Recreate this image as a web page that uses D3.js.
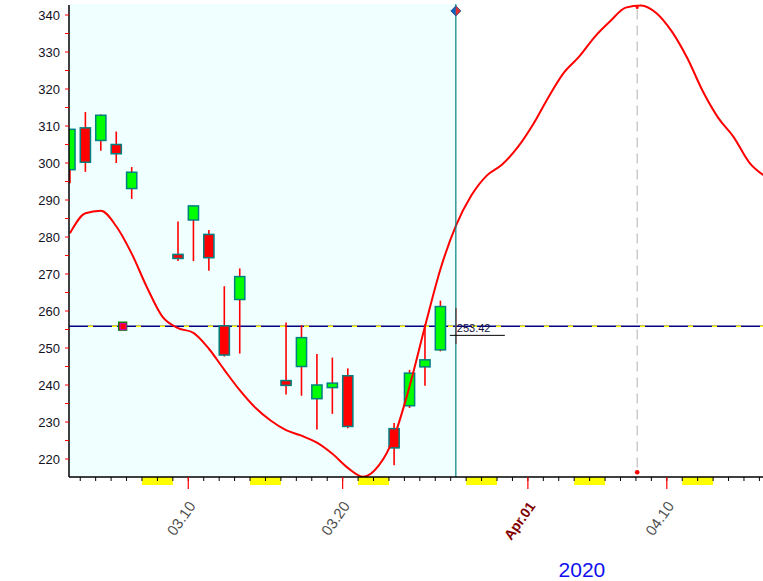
<!DOCTYPE html>
<html>
<head>
<meta charset="utf-8">
<script src="https://cdn.jsdelivr.net/npm/d3@7/dist/d3.min.js"></script>
<style>
  html, body { margin: 0; padding: 0; background: #fff; }
  svg { display: block; font-family: Arial, "Liberation Sans", sans-serif; }
</style>
</head>
<body>
<svg id="chart" width="763" height="581"></svg>
<script>
// ---------------- DATA ----------------
const candleDates = ["2020-03-02","2020-03-03","2020-03-04","2020-03-05","2020-03-06",
  "2020-03-09","2020-03-10","2020-03-11","2020-03-12","2020-03-13",
  "2020-03-16","2020-03-17","2020-03-18","2020-03-19","2020-03-20",
  "2020-03-23","2020-03-24","2020-03-25","2020-03-26","2020-03-27"];
const opens  = [298.2, 309.5, 306.1, 305.0, 293.1, 275.3, 284.6, 280.7, 256.0, 263.1,
                241.2, 245.0, 236.3, 239.3, 242.5, 228.2, 234.4, 244.9, 249.5, 253.3];
const highs  = [309.2, 313.8, 313.1, 308.5, 298.9, 284.2, 288.5, 281.9, 266.7, 271.5,
                256.9, 256.2, 248.4, 247.4, 244.5, 229.7, 244.1, 256.4, 262.8, 260.8];
const lows   = [294.5, 297.6, 303.3, 300.0, 290.3, 273.5, 273.5, 270.9, 247.7, 248.5,
                237.4, 237.1, 228.0, 232.2, 228.3, 218.3, 233.8, 239.8, 249.1, 251.1];
const closes = [309.1, 300.2, 312.9, 302.5, 297.5, 274.2, 288.4, 274.4, 248.1, 269.3,
                239.9, 252.8, 240.0, 240.5, 228.8, 223.0, 243.2, 246.8, 261.2, 253.4];

const curveDates = ["2020-03-02","2020-03-03","2020-03-04","2020-03-05","2020-03-06","2020-03-07",
  "2020-03-08","2020-03-09","2020-03-10","2020-03-11","2020-03-12","2020-03-13","2020-03-14",
  "2020-03-15","2020-03-16","2020-03-17","2020-03-18","2020-03-19","2020-03-20","2020-03-21",
  "2020-03-22","2020-03-23","2020-03-24","2020-03-25","2020-03-26","2020-03-27","2020-03-28",
  "2020-03-29","2020-03-30","2020-03-31","2020-04-01","2020-04-02","2020-04-03","2020-04-04",
  "2020-04-05","2020-04-06","2020-04-07","2020-04-08","2020-04-09","2020-04-10","2020-04-11",
  "2020-04-12","2020-04-13","2020-04-14","2020-04-15","2020-04-16"];
const curveValues = [281.0, 286.4, 287.1, 282.9, 275.5, 266.3,
  258.4, 255.4, 254.1, 249.8, 244.1, 238.6, 233.9,
  230.4, 227.8, 226.3, 224.4, 221.4, 217.6, 215.2,
  218.2, 226.0, 239.6, 255.8, 271.3, 283.0, 291.2,
  296.6, 299.6, 304.2, 310.4, 317.8, 324.4, 328.8,
  334.1, 338.3, 342.0, 342.6, 340.5, 335.5, 328.3,
  319.4, 312.2, 307.0, 300.2, 296.5];

const weekendStarts = ["2020-03-07","2020-03-14","2020-03-21","2020-03-28","2020-04-04","2020-04-11"];
const majorTickDates = ["2020-03-10","2020-03-20","2020-04-01","2020-04-10"];
const majorTickLabels = ["03.10","03.20","Apr.01","04.10"];
const yTickValues = [220,230,240,250,260,270,280,290,300,310,320,330,340];
const yMinorValues = [225,235,245,255,265,275,285,295,305,315,325,335];

const refLevel = 255.9;
const lastClose = 253.42;
const markerDate = "2020-03-05T18:00:00Z";
const cursorDate = "2020-03-27T08:00:00Z";
const cursorValue = 341.1;
const peakDate = "2020-04-08T02:00:00Z";
const peakTop = 342.6, peakBottom = 216.4;
const yearLabel = "2020";

// ---------------- LAYOUT ----------------
const svg = d3.select("#chart");
const L = 69, T = 4, R = 763, B = 477;
const dayT = s => new Date(s + "T08:00:00Z");
const x = d3.scaleUtc()
  .domain([new Date("2020-03-02T00:00:00Z"), new Date("2020-04-10T00:00:00Z")])
  .range([64.8, 666.8]);
const y = d3.scaleLinear().domain([220, 340]).range([459, 15]);
const dayW = x(new Date("2020-03-03T00:00:00Z")) - x(new Date("2020-03-02T00:00:00Z"));

// defs
const defs = svg.append("defs");
defs.append("clipPath").attr("id","plotclip").append("rect")
  .attr("x", L).attr("y", 0).attr("width", R - L).attr("height", B);
const rg = defs.append("radialGradient").attr("id","shadow").attr("cx","0.3").attr("cy","1").attr("r","0.7");
rg.append("stop").attr("offset","0").attr("stop-color","#d8d8d8").attr("stop-opacity",0.9);
rg.append("stop").attr("offset","1").attr("stop-color","#ffffff").attr("stop-opacity",0);

svg.append("ellipse").attr("cx", 30).attr("cy", 585).attr("rx", 110).attr("ry", 18)
  .attr("fill","url(#shadow)");

// background (history region)
const cursorX = x(new Date(cursorDate));
svg.append("rect").attr("x", L).attr("y", T).attr("width", cursorX - L).attr("height", B - T)
  .attr("fill", "#F0FFFF");

const plot = svg.append("g").attr("clip-path","url(#plotclip)");

// reference level line (navy with yellow dashes)
plot.append("line").attr("x1", L).attr("x2", R).attr("y1", y(refLevel)).attr("y2", y(refLevel))
  .attr("stroke", "#000080").attr("stroke-width", 1.5);
plot.append("line").attr("x1", L).attr("x2", R).attr("y1", y(refLevel)).attr("y2", y(refLevel))
  .attr("stroke", "#FFFF00").attr("stroke-width", 1.5).attr("stroke-dasharray", "5,19")
  .attr("stroke-dashoffset", -19);

// candles
const candles = candleDates.map((d, i) => ({
  date: dayT(d), o: opens[i], h: highs[i], l: lows[i], c: closes[i], last: i === candleDates.length - 1
}));
const bw = dayW * 0.66;
const cg = plot.append("g");
cg.selectAll("line.wick").data(candles).join("line").attr("class","wick")
  .attr("x1", d => x(d.date)).attr("x2", d => x(d.date))
  .attr("y1", d => y(d.h)).attr("y2", d => y(d.l))
  .attr("stroke", "#FF0000").attr("stroke-width", 1.6);
cg.selectAll("rect.body").data(candles.filter(d => !d.last)).join("rect").attr("class","body")
  .attr("x", d => x(d.date) - bw / 2).attr("width", bw)
  .attr("y", d => y(Math.max(d.o, d.c)))
  .attr("height", d => Math.max(2, Math.abs(y(d.o) - y(d.c))))
  .attr("fill", d => d.c > d.o ? "#00FF00" : "#FF0000")
  .attr("stroke", "#008080").attr("stroke-width", 1.5);

// marker box
const mx = x(new Date(markerDate)), my = y(refLevel);
plot.append("rect").attr("x", mx - 4).attr("y", my - 4).attr("width", 8).attr("height", 8)
  .attr("fill", "#FF0000").attr("stroke", "#008000").attr("stroke-width", 1.3);
plot.append("rect").attr("x", mx - 2.5).attr("y", my - 2.5).attr("width", 6).attr("height", 6)
  .attr("fill", "none").attr("stroke", "#CC00CC").attr("stroke-width", 1);

// curve
const curvePts = curveDates.map((d, i) => [dayT(d), curveValues[i]]);
plot.append("path").datum(curvePts)
  .attr("d", d3.line().x(d => x(d[0])).y(d => y(d[1])).curve(d3.curveMonotoneX))
  .attr("fill", "none").attr("stroke", "#FF0000").attr("stroke-width", 2);

// peak dashed vertical
const px = x(new Date(peakDate));
svg.append("line").attr("x1", px).attr("x2", px).attr("y1", y(peakTop) + 4).attr("y2", y(peakBottom))
  .attr("stroke", "#C0C0C0").attr("stroke-width", 1.2).attr("stroke-dasharray", "10,6");
svg.append("circle").attr("cx", px).attr("cy", y(peakBottom)).attr("r", 2.3).attr("fill", "#FF0000");
svg.append("circle").attr("cx", px).attr("cy", y(peakTop) + 2).attr("r", 1.5).attr("fill", "#FF0000");

// cursor line
svg.append("line").attr("x1", cursorX).attr("x2", cursorX).attr("y1", T).attr("y2", B)
  .attr("stroke", "#008080").attr("stroke-width", 1.2);
// diamond
const dy = y(cursorValue);
svg.append("path").attr("d", `M${cursorX-5},${dy} L${cursorX},${dy-5} L${cursorX},${dy+5} Z`).attr("fill", "#1060C0");
svg.append("path").attr("d", `M${cursorX+5},${dy} L${cursorX},${dy-5} L${cursorX},${dy+5} Z`).attr("fill", "#E03030");
svg.append("path").attr("d", `M${cursorX-5},${dy} L${cursorX},${dy-5} L${cursorX+5},${dy} L${cursorX},${dy+5} Z`)
  .attr("fill", "none").attr("stroke", "#104080").attr("stroke-width", 0.8);

// last close label
svg.append("line").attr("x1", cursorX - 6).attr("x2", cursorX + 49).attr("y1", y(lastClose)).attr("y2", y(lastClose))
  .attr("stroke", "#000").attr("stroke-width", 1);
svg.append("text").attr("x", cursorX + 1).attr("y", y(lastClose) - 3)
  .attr("font-size", 11).attr("fill", "#101040").text(lastClose.toFixed(2));

// weekend bands
svg.selectAll("rect.wk").data(weekendStarts).join("rect").attr("class","wk")
  .attr("x", d => x(new Date(d + "T00:00:00Z")))
  .attr("width", dayW * 2)
  .attr("y", B).attr("height", 8).attr("fill", "#FFFF00");

// x axis
svg.append("line").attr("x1", L).attr("x2", R).attr("y1", B).attr("y2", B).attr("stroke", "#000").attr("stroke-width", 1.5);
const dayTicks = d3.utcDay.range(new Date("2020-03-02T00:00:00Z"), new Date("2020-04-17T00:00:00Z"))
  .filter(d => x(d) > L && x(d) < R);
svg.selectAll("line.minor").data(dayTicks).join("line").attr("class","minor")
  .attr("x1", d => x(d)).attr("x2", d => x(d)).attr("y1", B).attr("y2", B + 4)
  .attr("stroke", "#000").attr("stroke-width", 1);
const majors = majorTickDates.map((d, i) => ({ date: new Date(d + "T00:00:00Z"), label: majorTickLabels[i] }));
svg.selectAll("line.major").data(majors).join("line").attr("class","major")
  .attr("x1", d => x(d.date)).attr("x2", d => x(d.date)).attr("y1", B).attr("y2", B + 12)
  .attr("stroke", "#FF0000").attr("stroke-width", 1.2);
svg.selectAll("text.xl").data(majors).join("text").attr("class","xl")
  .attr("transform", d => `translate(${x(d.date) + 8},${B + 29}) rotate(-55)`)
  .attr("text-anchor", "end")
  .attr("font-size", d => d.label.startsWith("Apr") ? 14 : 15)
  .attr("font-weight", d => d.label.startsWith("Apr") ? "bold" : "normal")
  .attr("fill", d => d.label.startsWith("Apr") ? "#800000" : "#505050")
  .text(d => d.label);

// y axis
svg.append("line").attr("x1", L).attr("x2", L).attr("y1", T + 1).attr("y2", B).attr("stroke", "#000").attr("stroke-width", 1.5);
svg.selectAll("line.ytk").data(yTickValues.concat(yMinorValues)).join("line").attr("class","ytk")
  .attr("x1", L - 4).attr("x2", L).attr("y1", d => y(d)).attr("y2", d => y(d))
  .attr("stroke", "#FF0000").attr("stroke-width", 1);
svg.selectAll("text.yl").data(yTickValues).join("text").attr("class","yl")
  .attr("x", L - 9).attr("y", d => y(d) + 4.5)
  .attr("text-anchor", "end").attr("font-size", 13).attr("fill", "#111122")
  .text(d => d);

// year
svg.append("text").attr("x", (x(new Date("2020-04-04T00:00:00Z")) + x(new Date("2020-04-05T00:00:00Z"))) / 2)
  .attr("y", 577).attr("text-anchor", "middle").attr("font-size", 21).attr("fill", "#1010EE")
  .text(yearLabel);
</script>
</body>
</html>
